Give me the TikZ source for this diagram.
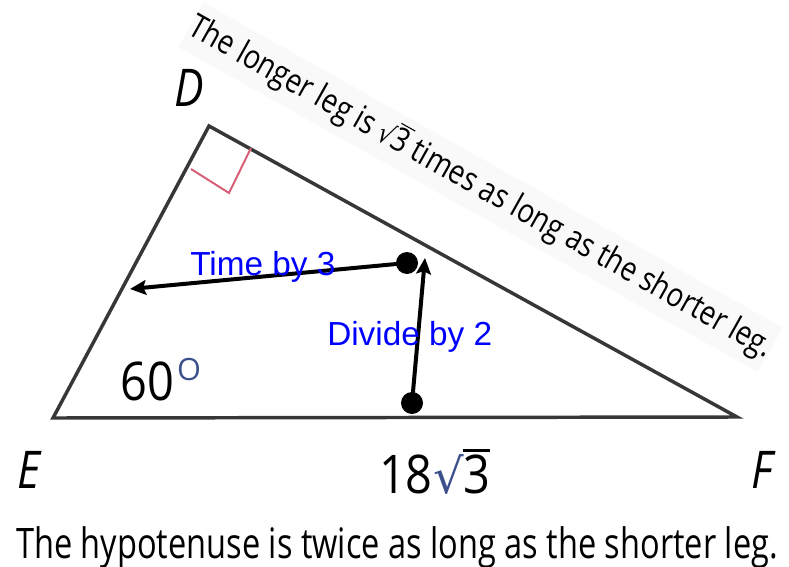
\documentclass[tikz,border=0pt]{standalone}
\usepackage{fontspec}
\setmainfont{Open Sans}
\newfontfamily\arialf{Liberation Sans}
\newfontfamily\symf{DejaVu Sans}
\usetikzlibrary{arrows.meta}
\definecolor{tri}{RGB}{55,55,55}
\definecolor{ramark}{RGB}{215,95,120}
\definecolor{radc}{RGB}{60,80,140}
\definecolor{blu}{RGB}{0,0,255}
\definecolor{bandc}{RGB}{249,249,249}
\newcommand\myovl[2]{\vbox{\hrule height #1\kern 1.5pt\hbox{#2}}}
\begin{document}
\begin{tikzpicture}[x=0.75pt,y=-0.75pt,
  lab/.style={inner sep=0pt, anchor=base, font=\fontsize{39}{40}\selectfont\itshape, xscale=0.85},
  num/.style={inner sep=0pt, anchor=base, font=\fontsize{40}{41}\selectfont, xscale=0.88},
  bluetxt/.style={inner sep=0pt, anchor=base west, text=blu, font=\arialf\fontsize{25}{26}\selectfont},
  dotc/.style={circle, fill=black, inner sep=0pt, minimum size=16.5pt},
  arr/.style={line width=3pt, -{Stealth[length=12pt, width=11pt, inset=2pt]}}]
\useasboundingbox (0,0) rectangle (789,567);
% rotated caption
\node[anchor=base west, rotate=-29.3, xscale=0.83, fill=bandc, inner xsep=0pt, inner ysep=6pt,
  font=\fontsize{25}{26}\selectfont] (cap) at (186,33)
  {The longer leg is {\symf\fontsize{21}{22}\selectfont √}\myovl{0.8pt}{3} times as long as the shorter leg.};
% triangle
\coordinate (D) at (209,126);
\coordinate (E) at (53,418);
\coordinate (F) at (737,417);
\draw[tri, line width=2.6pt, line join=miter] (D) -- (E) -- (F) -- cycle;
% right angle mark
\coordinate (m1) at (191,169);
\coordinate (m2) at (229,193);
\coordinate (m3) at (251,148);
\draw[ramark, line width=1.5pt] (m1) -- (m2) -- (m3);
% labels
\node[lab] (lD) at (189,107) {D};
\node[lab] (lE) at (29,488) {E};
\node[lab] (lF) at (762,488) {F};
\node[num] (l60) at (147,400) {60};
\node[inner sep=0pt, anchor=base, text=radc, font=\fontsize{23}{24}\selectfont] (ldeg) at (189,380) {O};
\node[num, anchor=base east] (l18) at (433,493) {18};
\node[inner sep=0pt, anchor=base west, text=radc, font=\symf\fontsize{36}{37}\selectfont] (lrad) at (433,493) {√};
\node[num, anchor=base west] (l3) at (463,493) {\myovl{2.2pt}{3}};
% bottom caption
\node[inner sep=0pt, anchor=base, xscale=0.775, font=\fontsize{31.5}{32}\selectfont] (bot) at (397,558)
  {The hypotenuse is twice as long as the shorter leg.};
% arrows
\node[dotc] (p1) at (407,263) {};
\node[dotc] (p2) at (412,403) {};
\coordinate (t1) at (130,289);
\coordinate (t2) at (425,258);
\draw[arr] (p1.center) -- (t1);
\draw[arr] (p2.center) -- (t2);
\node[bluetxt] (tb3) at (190,275) {Time by 3};
\node[bluetxt] (db2) at (327,345) {Divide by 2};
\end{tikzpicture}
\end{document}
